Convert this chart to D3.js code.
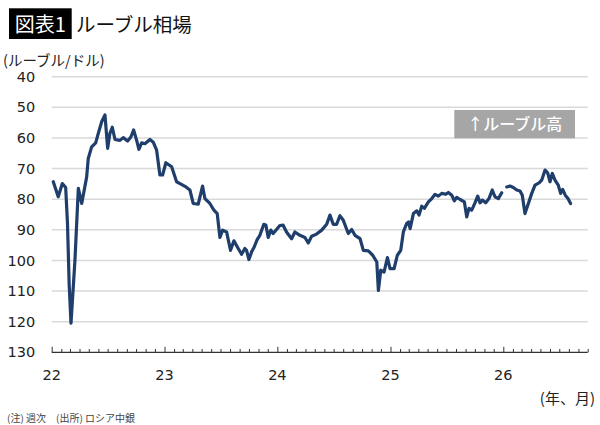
<!DOCTYPE html>
<html><head><meta charset="utf-8">
<script src="https://cdn.jsdelivr.net/npm/d3@7"></script>
<style>
html,body{margin:0;padding:0;background:#fff;}
svg{display:block;}
</style></head>
<body>
<svg id="c" width="600" height="425"></svg>
<script>
const times = [
2022.014,2022.058,2022.094,2022.124,2022.140,2022.155,2022.171,2022.206,2022.236,2022.266,
2022.310,2022.324,2022.354,2022.390,2022.413,2022.443,2022.472,2022.496,2022.516,2022.537,
2022.561,2022.605,2022.634,2022.673,2022.702,2022.726,2022.753,2022.773,2022.797,2022.826,
2022.871,2022.900,2022.930,2022.959,2022.983,2023.012,2023.063,2023.107,2023.137,2023.190,
2023.225,2023.254,2023.299,2023.337,2023.358,2023.402,2023.438,2023.467,2023.491,2023.515,
2023.550,2023.585,2023.615,2023.653,2023.683,2023.712,2023.727,2023.748,2023.772,2023.795,
2023.821,2023.845,2023.880,2023.898,2023.919,2023.942,2023.963,2024.022,2024.051,2024.081,
2024.126,2024.155,2024.199,2024.244,2024.273,2024.303,2024.347,2024.392,2024.436,2024.465,
2024.494,2024.524,2024.553,2024.583,2024.627,2024.657,2024.686,2024.731,2024.760,2024.804,
2024.843,2024.879,2024.893,2024.914,2024.943,2024.973,2024.996,2025.032,2025.061,2025.091,
2025.114,2025.144,2025.160,2025.174,2025.203,2025.233,2025.253,2025.277,2025.300,2025.336,
2025.366,2025.395,2025.424,2025.454,2025.490,2025.513,2025.543,2025.566,2025.587,2025.617,
2025.655,2025.676,2025.696,2025.720,2025.749,2025.773,2025.794,2025.814,2025.844,2025.873,
2025.902,2025.926,2025.956,2025.986,2026.008,2026.030,2026.059,2026.089,2026.119,2026.148,
2026.168,2026.192,2026.222,2026.252,2026.281,2026.317,2026.340,2026.370,2026.393,2026.414,
2026.434,2026.458,2026.487,2026.508,2026.526,2026.549,2026.573,2026.596
];
// rouble per dollar
const rates = [
74.3,79.2,74.9,76.2,88.0,108.0,120.5,100.0,76.5,81.4,
72.7,66.7,62.9,61.6,58.5,54.7,52.5,63.4,58.5,56.5,
60.5,60.8,59.9,61.0,59.7,57.4,60.8,63.7,61.6,61.9,
60.5,61.4,64.0,72.1,72.1,68.1,69.4,74.3,74.9,76.0,
77.0,81.4,81.6,75.7,79.8,81.4,83.6,84.7,92.5,90.1,
90.7,96.7,93.6,96.1,98.0,96.1,96.7,99.7,97.2,95.6,
93.2,91.8,88.2,88.4,92.5,90.1,91.2,88.6,88.5,90.7,
92.9,90.7,91.8,92.5,94.3,92.1,91.4,90.1,88.2,85.2,
88.2,88.2,85.4,86.9,91.2,89.9,91.8,92.9,96.7,96.9,
98.3,100.5,109.8,103.2,103.8,99.1,102.7,102.7,98.3,96.7,
90.7,87.9,87.4,89.6,84.7,83.8,85.2,82.3,83.0,80.9,
79.8,78.4,79.0,78.1,78.4,77.8,78.7,80.5,79.4,80.1,
80.9,85.8,83.0,83.6,81.2,79.0,81.2,80.3,81.2,79.8,
77.0,79.2,79.8,77.9,null,76.0,75.7,76.2,77.0,77.3,
78.7,84.7,81.4,78.1,75.4,74.7,73.8,70.5,71.4,74.3,
71.6,73.8,75.4,78.1,76.8,78.7,79.8,81.4
];
const yTicks = [40,50,60,70,80,90,100,110,120,130];
const yearLabels = ["22","23","24","25","26"];
const titleTag = "図表1";
const titleText = "ルーブル相場";
const yUnit = "(ルーブル/ドル)";
const xUnit = "(年、月)";
const note = "(注) 週次　(出所) ロシア中銀";
const annotation = "↑ルーブル高";

function toDate(t){
  const y = Math.floor(t);
  const a = new Date(y,0,1).getTime(), b = new Date(y+1,0,1).getTime();
  return new Date(a + (t-y)*(b-a));
}
const data = times.map((t,i)=>({d:toDate(t), v:rates[i]}));

const svg = d3.select("#c");
const JP = "'Noto Sans CJK JP','Noto Sans',sans-serif";
const NUM = "'DejaVu Sans',sans-serif";

const x = d3.scaleTime().domain([new Date(2022,0,1), new Date(2026,9,1)]).range([51.7,587.7]);
const y = d3.scaleLinear().domain([40,130]).range([76.7,352.3]);

// gridlines
svg.append("g").selectAll("line").data(yTicks.filter(v=>v<130)).join("line")
  .attr("x1",x.range()[0]).attr("x2",x.range()[1])
  .attr("y1",d=>y(d)).attr("y2",d=>y(d))
  .attr("stroke","#d9d9d9").attr("stroke-width",1.6);

// y axis labels
const ya = svg.append("g").attr("transform",`translate(${x.range()[0]},0)`)
  .call(d3.axisLeft(y).tickValues(yTicks).tickSize(0).tickPadding(16.5));
ya.select(".domain").remove();
ya.selectAll("text").attr("font-family",NUM).attr("font-size",14.5).attr("fill","#222");

// x axis: monthly ticks pointing up
const months = d3.timeMonth.range(new Date(2022,0,1), new Date(2026,9,2));
const xa = svg.append("g").attr("transform",`translate(0,${y(130)})`)
  .call(d3.axisBottom(x).tickValues(months).tickSize(-3.3).tickFormat(""));
xa.select(".domain").attr("d",`M${x.range()[0]},0H${x.range()[1]}`).attr("stroke","#333").attr("stroke-width",1.3);
xa.selectAll(".tick line").attr("stroke","#333").attr("stroke-width",1)
  .attr("y2",d=>d.getMonth()===0?-5.5:-3.3);

// year labels
svg.append("g").selectAll("text").data(yearLabels).join("text")
  .attr("x",(d,i)=>x(new Date(2022+i,0,1)))
  .attr("y",380)
  .attr("text-anchor","middle")
  .attr("font-family",NUM).attr("font-size",14.5).attr("fill","#222")
  .text(d=>d);

// line
const line = d3.line().defined(d=>d.v!=null).x(d=>x(d.d)).y(d=>y(d.v)).curve(d3.curveLinear);
svg.append("path").datum(data).attr("d",line)
  .attr("fill","none").attr("stroke","#1f3e6c").attr("stroke-width",3.2)
  .attr("stroke-linejoin","round").attr("stroke-linecap","round");

// annotation box
svg.append("rect").attr("x",454.3).attr("y",110).attr("width",120.7).attr("height",28.3).attr("fill","#a6a6a6");
svg.append("text").attr("x",514.7).attr("y",130).attr("text-anchor","middle")
  .attr("font-family",JP).attr("font-size",16).attr("font-weight",500).attr("fill","#fff").text(annotation);

// title
svg.append("rect").attr("x",9).attr("y",8.3).attr("width",62.7).attr("height",30.7).attr("fill","#000");
svg.append("text").attr("x",40.3).attr("y",31.5).attr("text-anchor","middle")
  .attr("font-family",JP).attr("font-size",20).attr("fill","#fff").text(titleTag);
svg.append("text").attr("x",76).attr("y",31.5)
  .attr("font-family",JP).attr("font-size",19.5).attr("fill","#111").text(titleText);

// units
svg.append("text").attr("x",3).attr("y",66).attr("font-family",JP).attr("font-size",14.5).attr("fill","#222").text(yUnit);
svg.append("text").attr("x",595).attr("y",404).attr("text-anchor","end").attr("font-family",JP).attr("font-size",15).attr("fill","#222").text(xUnit);
svg.append("text").attr("x",7).attr("y",422).attr("font-family",JP).attr("font-size",10).attr("fill","#444").text(note);
</script>
</body></html>
